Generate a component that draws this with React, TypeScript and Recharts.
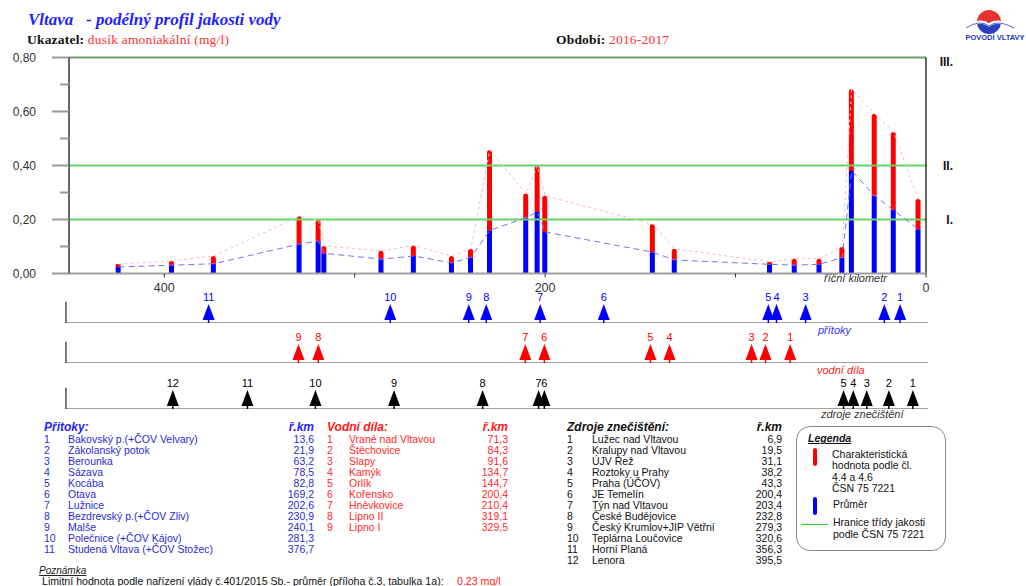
import React from 'react'
import { ComposedChart, Bar, Line, XAxis, YAxis, ReferenceLine, ScatterChart, Scatter } from 'recharts'

// sampling stations (river km) and measured values (mg/l)
const stationKm = [424, 396, 374, 329, 319, 316, 286, 269, 249, 239, 229, 210, 204, 200, 143.5, 132, 82, 69, 56, 44, 39, 27, 17, 4]
const meanValues = [0.024, 0.031, 0.036, 0.109, 0.12, 0.075, 0.053, 0.065, 0.039, 0.06, 0.16, 0.207, 0.228, 0.154, 0.079, 0.05, 0.034, 0.031, 0.034, 0.059, 0.38, 0.288, 0.235, 0.164]
const charValues = [0.035, 0.046, 0.065, 0.212, 0.198, 0.102, 0.084, 0.104, 0.065, 0.092, 0.457, 0.296, 0.398, 0.288, 0.183, 0.092, 0.043, 0.055, 0.055, 0.099, 0.682, 0.592, 0.524, 0.276]

const yTicks = [0, 0.1, 0.2, 0.3, 0.4, 0.5, 0.6, 0.7, 0.8]
const xTicks = [400, 300, 200, 100, 0]
const xLabels = [400, 200, 0]
const classLimits = [0.2, 0.4]

const tributaryNames = ['Bakovský p.(+ČOV Velvary)', 'Zákolanský potok', 'Berounka', 'Sázava', 'Kocába', 'Otava', 'Lužnice', 'Bezdrevský p.(+ČOV Zliv)', 'Malše', 'Polečnice (+ČOV Kájov)', 'Studená Vltava (+ČOV Stožec)']
const tributaryKm = [13.6, 21.9, 63.2, 78.5, 82.8, 169.2, 202.6, 230.9, 240.1, 281.3, 376.7]
const reservoirNames = ['Vrané nad Vltavou', 'Štěchovice', 'Slapy', 'Kamýk', 'Orlík', 'Kořensko', 'Hněvkovice', 'Lipno II', 'Lipno I']
const reservoirKm = [71.3, 84.3, 91.6, 134.7, 144.7, 200.4, 210.4, 319.1, 329.5]
const sourceNames = ['Lužec nad Vltavou', 'Kralupy nad Vltavou', 'ÚJV Řež', 'Roztoky u Prahy', 'Praha (ÚČOV)', 'JE Temelín', 'Týn nad Vltavou', 'České Budějovice', 'Český Krumlov+JIP Větřní', 'Teplárna Loučovice', 'Horní Planá', 'Lenora']
const sourceKm = [6.9, 19.5, 31.1, 38.2, 43.3, 200.4, 203.4, 232.8, 279.3, 320.6, 356.3, 395.5]

const chartData = stationKm.map((km, i) => ({
  km,
  mean: meanValues[i],
  excess: charValues[i] - meanValues[i],
  char: charValues[i],
}))

const SANS = '"Liberation Sans", Arial, sans-serif'
const SERIF = '"Liberation Serif", "Times New Roman", serif'
const fmt = (v: number, d: number) => v.toFixed(d).replace('.', ',')

const YTick = (props: any) => {
  const { y, payload } = props
  const v = payload.value
  const major = Math.round(v * 10) % 2 === 0
  return (
    <g>
      <line x1={major ? 52 : 60} x2={69} y1={y} y2={y} stroke="#9a9a9a" strokeWidth={2} />
      {major && (
        <text x={36} y={y} dy={4.5} textAnchor="end" fontSize={12} fill="#333" fontFamily={SANS}>
          {fmt(v, 2)}
        </text>
      )}
    </g>
  )
}

const classLabel = (text: string, dy: number) => (props: any) => {
  const vb = props.viewBox
  return (
    <text x={vb.x + vb.width + 27} y={vb.y + dy} textAnchor="end" fontSize={12} fontWeight="bold" fill="#111" fontFamily={SANS}>
      {text}
    </text>
  )
}

function T({ x, y, size = 10.5, children, style }: any) {
  return (
    <div style={{ position: 'absolute', left: x, top: y - size * 0.55, fontSize: size, lineHeight: 1, whiteSpace: 'pre', ...style }}>
      {children}
    </div>
  )
}

function MarkerRow({ kms, color, base }: { kms: number[]; color: string; base: number }) {
  const data = kms.map((km, i) => ({ km, y: 0, n: i + 1 }))
  const shape = (p: any) => {
    const { cx, cy, payload } = p
    return (
      <g>
        <line x1={cx} x2={cx} y1={cy} y2={cy - 4} stroke={color} strokeWidth={1.5} />
        <polygon points={`${cx - 6},${cy - 3} ${cx + 6},${cy - 3} ${cx},${cy - 19}`} fill={color} />
        <text x={cx} y={cy - 22} textAnchor="middle" fontSize={11} fill={color} fontFamily={SANS}>
          {payload.n}
        </text>
      </g>
    )
  }
  return (
    <div style={{ position: 'absolute', left: 0, top: base - 40 }}>
      <ScatterChart width={1026} height={40} margin={{ top: 0, right: 100, left: 69, bottom: 0 }}>
        <XAxis dataKey="km" type="number" domain={[0, 450]} reversed hide />
        <YAxis dataKey="y" type="number" domain={[0, 1]} hide />
        <ReferenceLine segment={[{ x: 451.6, y: 0 }, { x: -1, y: 0 }]} ifOverflow="visible" stroke="#a0a0a0" strokeWidth={2} />
        <ReferenceLine segment={[{ x: 451.6, y: 0 }, { x: 451.6, y: 0.53 }]} ifOverflow="visible" stroke="#222" strokeWidth={1.2} />
        <Scatter data={data} shape={shape} isAnimationActive={false} />
      </ScatterChart>
    </div>
  )
}

function Table({ x, nameX, kmX, header, names, kms, color, headColor }: any) {
  return (
    <>
      <T x={x} y={428} size={12} style={{ color: headColor, fontWeight: 'bold', fontStyle: 'italic' }}>{header}</T>
      <T x={kmX - 40} y={428} size={12} style={{ color: headColor, fontWeight: 'bold', fontStyle: 'italic', width: 40, textAlign: 'right' }}>ř.km</T>
      {names.map((name: string, i: number) => (
        <React.Fragment key={name}>
          <T x={x} y={440 + i * 10.97} style={{ color }}>{String(i + 1)}</T>
          <T x={nameX} y={440 + i * 10.97} style={{ color }}>{name}</T>
          <T x={kmX - 50} y={440 + i * 10.97} style={{ color, width: 50, textAlign: 'right' }}>{fmt(kms[i], 1)}</T>
        </React.Fragment>
      ))}
    </>
  )
}

function Logo() {
  return (
    <svg width={70} height={44} style={{ position: 'absolute', left: 958, top: 4 }}>
      <path d="M19,18 A12,12 0 0 1 43,18 Z" fill="#e8322f" />
      <path d="M19,18 A12,12 0 0 0 43,18 Z" fill="#2b3fbf" />
      <path d="M8,24 Q22,14 31,21 Q40,14 56,24" fill="none" stroke="#fff" strokeWidth={3} />
      <path d="M8,24 Q22,15 31,22 Q40,15 56,24" fill="none" stroke="#2b3fbf" strokeWidth={0.8} />
      <text x={37} y={36} textAnchor="middle" fontSize={7.5} fontWeight="bold" fill="#2236c8" fontFamily={SANS}>POVODÍ VLTAVY</text>
    </svg>
  )
}

export default function App() {
  return (
    <div style={{ position: 'absolute', left: 0, top: 0, width: 1026, height: 586, background: '#fff', overflow: 'hidden', fontFamily: SANS }}>
      <T x={28} y={20} size={17} style={{ fontFamily: SERIF, fontWeight: 'bold', fontStyle: 'italic', color: '#1f1fff' }}>{'Vltava   - podélný profil jakosti vody'}</T>
      <T x={27} y={40} size={13.5} style={{ fontFamily: SERIF, letterSpacing: 0.2 }}>
        <b style={{ color: '#111' }}>Ukazatel: </b><span style={{ color: '#ff3333' }}>dusík amoniakální (mg/l)</span>
      </T>
      <T x={556} y={40} size={13.5} style={{ fontFamily: SERIF, letterSpacing: 0.2 }}>
        <b style={{ color: '#111' }}>Období: </b><span style={{ color: '#ff3333' }}>2016-2017</span>
      </T>
      <Logo />

      <div style={{ position: 'absolute', left: 0, top: 0 }}>
        <ComposedChart width={1026} height={310} data={chartData} margin={{ top: 57.5, right: 100, left: 0, bottom: 0 }}>
          <XAxis
            dataKey="km"
            type="number"
            domain={[0, 450]}
            reversed
            ticks={xTicks}
            tickFormatter={(v: number) => (xLabels.includes(v) ? String(v) : '')}
            axisLine={{ stroke: '#a0a0a0', strokeWidth: 2 }}
            tickLine={{ stroke: '#333' }}
            tickSize={4}
            tickMargin={6}
            height={36.5}
            tick={{ fontSize: 12.5, fill: '#333', fontFamily: SANS }}
          />
          <YAxis
            type="number"
            domain={[0, 0.8]}
            ticks={yTicks}
            width={69}
            tickLine={false}
            tickSize={0}
            axisLine={{ stroke: '#000', strokeWidth: 1.2 }}
            tick={<YTick />}
            interval={0}
          />
          <ReferenceLine y={0.8} stroke="#6e9f6e" strokeWidth={2} label={classLabel('III.', 8)} />
          <ReferenceLine y={classLimits[1]} stroke="#66d466" strokeWidth={2} label={classLabel('II.', 4)} />
          <ReferenceLine y={classLimits[0]} stroke="#66d466" strokeWidth={2} label={classLabel('I.', 4)} />
          <ReferenceLine x={0} stroke="#000" strokeWidth={1.2} />
          <Line dataKey="char" stroke="#ffbcbc" strokeWidth={1} strokeDasharray="3 3" dot={false} isAnimationActive={false} />
          <Line dataKey="mean" stroke="#7474ff" strokeWidth={1} strokeDasharray="6 4" dot={false} isAnimationActive={false} />
          <Bar dataKey="mean" stackId="a" fill="#0000ff" barSize={5} isAnimationActive={false} />
          <Bar dataKey="excess" stackId="a" fill="#ff0000" barSize={5} radius={[2.5, 2.5, 0, 0]} isAnimationActive={false} />
        </ComposedChart>
      </div>
      <T x={824} y={279} size={11} style={{ fontStyle: 'italic', color: '#333' }}>říční kilometr</T>

      <MarkerRow kms={tributaryKm} color="#0000ff" base={323} />
      <MarkerRow kms={reservoirKm} color="#ff0000" base={363} />
      <MarkerRow kms={sourceKm} color="#000" base={409} />
      <T x={818} y={331} size={11} style={{ fontStyle: 'italic', color: '#3333ff' }}>přítoky</T>
      <T x={817} y={371} size={11} style={{ fontStyle: 'italic', color: '#ff2222' }}>vodní díla</T>
      <T x={821} y={415} size={11} style={{ fontStyle: 'italic', color: '#333' }}>zdroje znečištění</T>

      <Table x={44} nameX={68} kmX={314} header="Přítoky:" names={tributaryNames} kms={tributaryKm} color="#2b2bd6" headColor="#1f1fff" />
      <Table x={327} nameX={349} kmX={508} header="Vodní díla:" names={reservoirNames} kms={reservoirKm} color="#ff2a2a" headColor="#ff1a1a" />
      <Table x={567} nameX={592} kmX={782} header="Zdroje znečištění:" names={sourceNames} kms={sourceKm} color="#111" headColor="#111" />

      <div style={{ position: 'absolute', left: 796, top: 426, width: 148, height: 123, border: '1.5px solid #888', borderRadius: 14 }} />
      <T x={808} y={439} size={10.5} style={{ fontWeight: 'bold', fontStyle: 'italic', textDecoration: 'underline', color: '#111' }}>Legenda</T>
      <div style={{ position: 'absolute', left: 813, top: 448, width: 4, height: 18, background: '#ff0000', borderRadius: 2 }} />
      {['Charakteristická', 'hodnota podle čl.', '4.4 a 4.6', 'ČSN 75 7221'].map((s, i) => (
        <T key={s} x={832} y={455 + i * 11.2} style={{ color: '#111' }}>{s}</T>
      ))}
      <div style={{ position: 'absolute', left: 813, top: 497, width: 4, height: 18, background: '#0000ff', borderRadius: 2 }} />
      <T x={833} y={505} style={{ color: '#111' }}>Průměr</T>
      <div style={{ position: 'absolute', left: 801, top: 523.5, width: 27, height: 1.5, background: '#33cc33' }} />
      <T x={833} y={523} style={{ color: '#111' }}>Hranice třídy jakosti</T>
      <T x={833} y={534.5} style={{ color: '#111' }}>podle ČSN 75 7221</T>

      <T x={39} y={571} size={10} style={{ fontStyle: 'italic', textDecoration: 'underline', color: '#222' }}>Poznámka</T>
      <T x={42} y={582} size={10.6} style={{ color: '#111' }}>Limitní hodnota podle nařízení vlády č.401/2015 Sb.- průměr (příloha č.3, tabulka 1a):</T>
      <T x={457} y={582} size={10.6} style={{ color: '#ff2222' }}>0.23 mg/l</T>
    </div>
  )
}
